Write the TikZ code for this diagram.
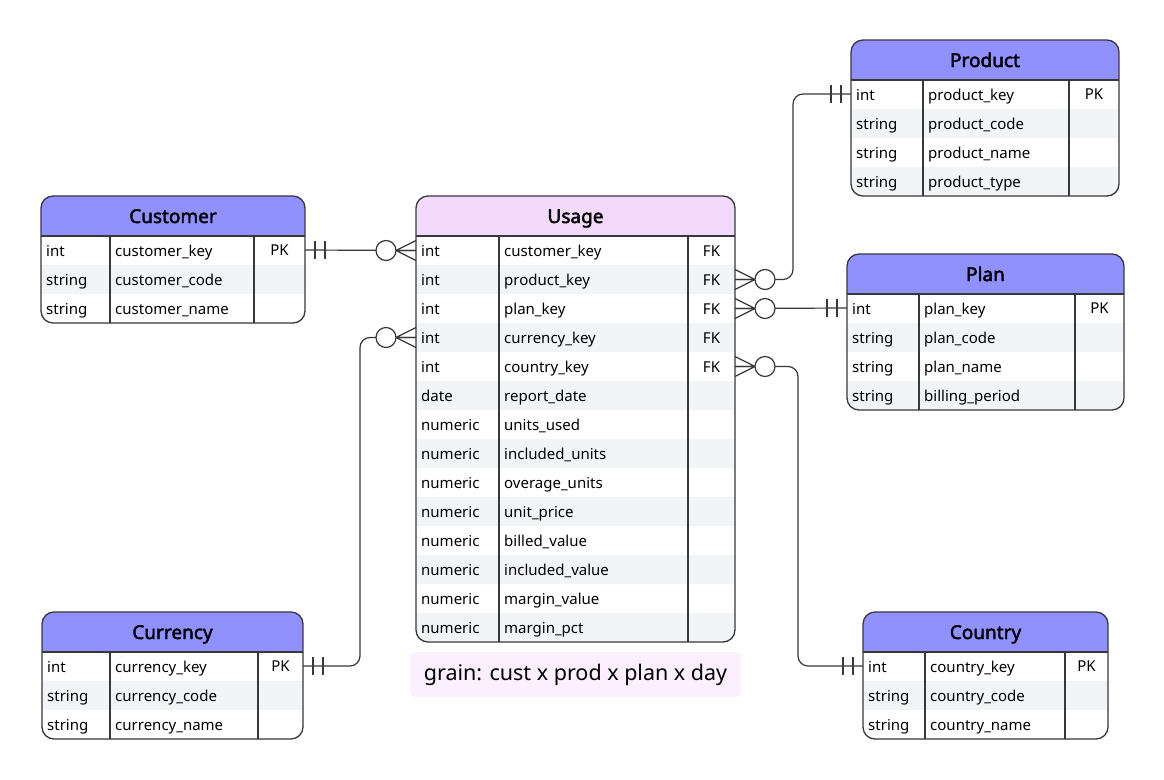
\documentclass[tikz,border=0pt]{standalone}
\usepackage{fontspec}
\setmainfont{Noto Sans}[AutoFakeBold=2.2]
\definecolor{hdr}{RGB}{144,144,255}
\definecolor{fct}{RGB}{243,217,252}
\definecolor{stp}{RGB}{243,244,246}
\definecolor{nte}{RGB}{252,239,255}
\definecolor{lne}{RGB}{55,55,62}
\begin{document}
\begin{tikzpicture}[x=1pt,y=-1pt,
  zm/.pic={\draw[cn](0,-10)--(-20,0)--(0,10) (0,0)--(-20,0);
    \draw[cn,fill=white](-30,0) circle (10);},
  oo/.pic={\draw[cn](10,-9)--(10,9) (20,-9)--(20,9);}]
\tikzstyle{fr} = [inner sep=0,outer sep=0] %table frame
\tikzstyle{bx} = [draw=lne,line width=1.3,rounded corners=12] %outline
\tikzstyle{ln} = [draw=lne,line width=1.1] %grid line
\tikzstyle{cn} = [draw=lne,line width=1.2] %connector
\tikzstyle{ti} = [inner sep=0,text height=14,text depth=0,font=\fontsize{19}{22}\selectfont\bfseries] %title
\tikzstyle{fd} = [anchor=west,inner sep=0,text height=11,text depth=0,font=\fontsize{15}{18}\selectfont] %field
\tikzstyle{ky} = [inner sep=0,text height=11,text depth=0,font=\fontsize{15}{18}\selectfont] %key
\useasboundingbox (0,0) rectangle (1164,779);
% Customer
\node[fr,minimum width=264,minimum height=127](cu) at (173,259.5){};
\begin{scope}
\clip[rounded corners=12](cu.north west) rectangle (cu.south east);
\fill[hdr](41,196) rectangle (305,236);
\fill[stp](41,265) rectangle (305,294);
\end{scope}
\draw[bx](cu.north west) rectangle (cu.south east);
\draw[ln](41,236)--(305,236) (110,236)--(110,323) (254,236)--(254,323);
\node[ti](cu-h) at (173,216){Customer};
\foreach \t/\n [count=\i] in {int/customer\_key,string/customer\_code,string/customer\_name}{
  \node[fd](cu-t\i) at (46,221.5+29*\i){\t};
  \node[fd](cu-n\i) at (115,221.5+29*\i){\n};}
\node[ky](cu-k1) at (279.5,250){PK};
% Usage
\node[fr,minimum width=319,minimum height=446](us) at (575.5,419){};
\begin{scope}
\clip[rounded corners=12](us.north west) rectangle (us.south east);
\fill[fct](416,196) rectangle (735,236);
\foreach \r in {265,323,...,613} \fill[stp](416,\r) rectangle (735,\r+29);
\end{scope}
\draw[bx](us.north west) rectangle (us.south east);
\draw[ln](416,236)--(735,236) (499,236)--(499,642) (688,236)--(688,642);
\node[ti](us-h) at (575.5,216){Usage};
\foreach \t/\n [count=\i] in {int/customer\_key,int/product\_key,int/plan\_key,int/currency\_key,
  int/country\_key,date/report\_date,numeric/units\_used,numeric/included\_units,numeric/overage\_units,
  numeric/unit\_price,numeric/billed\_value,numeric/included\_value,numeric/margin\_value,numeric/margin\_pct}{
  \node[fd](us-t\i) at (421,221.5+29*\i){\t};
  \node[fd](us-n\i) at (504,221.5+29*\i){\n};}
\foreach \i in {1,...,5} \node[ky](us-k\i) at (711.5,221.5+29*\i){FK};
\node[fill=nte,rounded corners=5,minimum width=331,minimum height=45,inner sep=0,
  font=\fontsize{21.5}{25}\selectfont](gr) at (575.5,674.5){grain: cust x prod x plan x day};
% Product
\node[fr,minimum width=268,minimum height=156](pr) at (985,118){};
\begin{scope}
\clip[rounded corners=12](pr.north west) rectangle (pr.south east);
\fill[hdr](851,40) rectangle (1119,80);
\fill[stp](851,109) rectangle (1119,138);
\fill[stp](851,167) rectangle (1119,196);
\end{scope}
\draw[bx](pr.north west) rectangle (pr.south east);
\draw[ln](851,80)--(1119,80) (923,80)--(923,196) (1069,80)--(1069,196);
\node[ti](pr-h) at (985,60){Product};
\foreach \t/\n [count=\i] in {int/product\_key,string/product\_code,string/product\_name,string/product\_type}{
  \node[fd](pr-t\i) at (856,65.5+29*\i){\t};
  \node[fd](pr-n\i) at (928,65.5+29*\i){\n};}
\node[ky](pr-k1) at (1094,94){PK};
% Plan
\node[fr,minimum width=277,minimum height=156](pl) at (985.5,332){};
\begin{scope}
\clip[rounded corners=12](pl.north west) rectangle (pl.south east);
\fill[hdr](847,254) rectangle (1124,294);
\fill[stp](847,323) rectangle (1124,352);
\fill[stp](847,381) rectangle (1124,410);
\end{scope}
\draw[bx](pl.north west) rectangle (pl.south east);
\draw[ln](847,294)--(1124,294) (919,294)--(919,410) (1075,294)--(1075,410);
\node[ti](pl-h) at (985.5,274){Plan};
\foreach \t/\n [count=\i] in {int/plan\_key,string/plan\_code,string/plan\_name,string/billing\_period}{
  \node[fd](pl-t\i) at (852,279.5+29*\i){\t};
  \node[fd](pl-n\i) at (924,279.5+29*\i){\n};}
\node[ky](pl-k1) at (1099.5,308){PK};
% Currency
\node[fr,minimum width=261,minimum height=127](cr) at (172.5,675.5){};
\begin{scope}
\clip[rounded corners=12](cr.north west) rectangle (cr.south east);
\fill[hdr](42,612) rectangle (303,652);
\fill[stp](42,681) rectangle (303,710);
\end{scope}
\draw[bx](cr.north west) rectangle (cr.south east);
\draw[ln](42,652)--(303,652) (110,652)--(110,739) (258,652)--(258,739);
\node[ti](cr-h) at (172.5,632){Currency};
\foreach \t/\n [count=\i] in {int/currency\_key,string/currency\_code,string/currency\_name}{
  \node[fd](cr-t\i) at (47,637.5+29*\i){\t};
  \node[fd](cr-n\i) at (115,637.5+29*\i){\n};}
\node[ky](cr-k1) at (280.5,666){PK};
% Country
\node[fr,minimum width=245,minimum height=127](co) at (985.5,675.5){};
\begin{scope}
\clip[rounded corners=12](co.north west) rectangle (co.south east);
\fill[hdr](863,612) rectangle (1108,652);
\fill[stp](863,681) rectangle (1108,710);
\end{scope}
\draw[bx](co.north west) rectangle (co.south east);
\draw[ln](863,652)--(1108,652) (925,652)--(925,739) (1065,652)--(1065,739);
\node[ti](co-h) at (985.5,632){Country};
\foreach \t/\n [count=\i] in {int/country\_key,string/country\_code,string/country\_name}{
  \node[fd](co-t\i) at (868,637.5+29*\i){\t};
  \node[fd](co-n\i) at (930,637.5+29*\i){\n};}
\node[ky](co-k1) at (1086.5,666){PK};
% relations
\draw[cn](cu.east|-cu-k1)--(us.west|-us-t1);
\path(cu.east|-cu-k1) pic{oo};
\path(us.west|-us-t1) pic{zm};
\draw[cn,rounded corners=10](cr.east|-cr-k1)--++(57,0)|-(us.west|-us-t4);
\path(cr.east|-cr-k1) pic{oo};
\path(us.west|-us-t4) pic{zm};
\draw[cn,rounded corners=10](us.east|-us-t2)--++(58,0)|-(pr.west|-pr-k1);
\path(us.east|-us-t2) pic[xscale=-1]{zm};
\path(pr.west|-pr-k1) pic[xscale=-1]{oo};
\draw[cn](us.east|-us-t3)--(pl.west|-pl-k1);
\path(us.east|-us-t3) pic[xscale=-1]{zm};
\path(pl.west|-pl-k1) pic[xscale=-1]{oo};
\draw[cn,rounded corners=10](us.east|-us-t5)--++(63,0)|-(co.west|-co-k1);
\path(us.east|-us-t5) pic[xscale=-1]{zm};
\path(co.west|-co-k1) pic[xscale=-1]{oo};
\end{tikzpicture}
\end{document}
